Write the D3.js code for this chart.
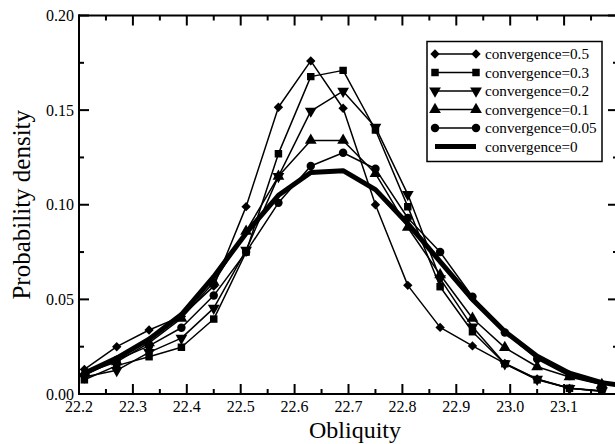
<!DOCTYPE html>
<html>
<head>
<meta charset="utf-8">
<script src="https://cdn.jsdelivr.net/npm/d3@7/dist/d3.min.js"></script>
<style>
html,body{margin:0;padding:0;background:#fff;}
svg{display:block;overflow:hidden;}
</style>
</head>
<body>
<svg id="chart" width="615" height="444" font-family="'Liberation Serif', 'Times New Roman', Times, serif"></svg>
<script>
const obliquity = [22.21,22.27,22.33,22.39,22.45,22.51,22.57,22.63,22.69,22.75,22.81,22.87,22.93,22.99,23.05,23.11,23.17];
const obliquityThick = [22.21,22.27,22.33,22.39,22.45,22.51,22.57,22.63,22.69,22.75,22.81,22.87,22.93,22.99,23.05,23.11,23.17,23.23];
const conv05  = [0.013,0.025,0.0338,0.041,0.057,0.099,0.1515,0.176,0.151,0.100,0.0574,0.0352,0.0254,0.0162,0.0079,0.003,0.0017];
const conv03  = [0.0075,0.015,0.0197,0.0247,0.0396,0.075,0.127,0.1677,0.171,0.1395,0.099,0.0567,0.0329,0.016,0.0075,0.003,0.0015];
const conv02  = [0.009,0.0125,0.022,0.0295,0.0454,0.076,0.115,0.1495,0.160,0.141,0.1055,0.061,0.0355,0.016,0.0078,0.003,0.0015];
const conv01  = [0.011,0.017,0.027,0.040,0.059,0.086,0.115,0.134,0.134,0.1165,0.088,0.063,0.040,0.0245,0.0144,0.009,0.005];
const conv005 = [0.010,0.018,0.0254,0.035,0.052,0.075,0.101,0.1205,0.1275,0.119,0.093,0.075,0.0514,0.0325,0.0185,0.0095,0.005];
const conv0   = [0.011,0.019,0.029,0.042,0.062,0.085,0.105,0.117,0.118,0.108,0.090,0.070,0.050,0.033,0.020,0.011,0.006,0.0035];
const seriesNames = ["convergence=0.5","convergence=0.3","convergence=0.2","convergence=0.1","convergence=0.05","convergence=0"];
const xTicks = [22.2,22.3,22.4,22.5,22.6,22.7,22.8,22.9,23.0,23.1];
const xTickLabels = ["22.2","22.3","22.4","22.5","22.6","22.7","22.8","22.9","23.0","23.1"];
const yTicks = [0,0.05,0.10,0.15,0.20];
const yTickLabels = ["0.00","0.05","0.10","0.15","0.20"];
const xLabel = "Obliquity";
const yLabel = "Probability density";

const FONT = "'Liberation Serif', 'Times New Roman', Times, serif";
const svg = d3.select("#chart");
const L = 79, R = 618, T = 15.5, B = 394;
const x = d3.scaleLinear().domain([22.2, 23.2]).range([L, R]);
const y = d3.scaleLinear().domain([0, 0.2]).range([B, T]);

const series = [
  {name: seriesNames[0], vals: conv05, sym: "diamond", size: 44, xs: obliquity},
  {name: seriesNames[1], vals: conv03, sym: d3.symbolSquare, size: 56, xs: obliquity},
  {name: seriesNames[2], vals: conv02, sym: "down", size: 60, xs: obliquity},
  {name: seriesNames[3], vals: conv01, sym: d3.symbolTriangle, size: 60, xs: obliquity},
  {name: seriesNames[4], vals: conv005, sym: d3.symbolCircle, size: 56, xs: obliquity},
  {name: seriesNames[5], vals: conv0, sym: null, size: 0, xs: obliquityThick, thick: true}
];

function symPath(s){
  if (s.sym === "down") return d3.symbol().type(d3.symbolTriangle).size(s.size)();
  if (s.sym === "diamond") return d3.symbol().type(d3.symbolSquare).size(s.size)();
  return d3.symbol().type(s.sym).size(s.size)();
}
function symRot(s){
  if (s.sym === "down") return " rotate(180)";
  if (s.sym === "diamond") return " rotate(45)";
  return "";
}

svg.append("clipPath").attr("id","clip").append("rect")
  .attr("x", L).attr("y", T).attr("width", R-L).attr("height", B-T);

const plot = svg.append("g").attr("clip-path","url(#clip)");
const line = d3.line().x(d=>x(d[0])).y(d=>y(d[1]));

const order = [5,4,3,2,1,0];
order.forEach(i=>{
  const s = series[i];
  const pts = s.xs.map((xv,j)=>[xv, s.vals[j]]);
  plot.append("path").datum(pts).attr("d", line)
    .attr("fill","none").attr("stroke","#000")
    .attr("stroke-width", s.thick ? 5 : 1.5)
    .attr("stroke-linejoin","round");
  if (s.sym) {
    plot.selectAll(null).data(pts).enter().append("path")
      .attr("d", symPath(s))
      .attr("transform", d=>`translate(${x(d[0])},${y(d[1])})` + symRot(s))
      .attr("fill","#000");
  }
});

const axg = svg.append("g");
const minorX = d3.range(22.25, 23.2, 0.1);
const minorY = d3.range(0.025, 0.2, 0.05);
function ln(x1,y1,x2,y2){ axg.append("line").attr("x1",x1).attr("y1",y1).attr("x2",x2).attr("y2",y2).attr("stroke","#000").attr("stroke-width",2); }
ln(L,T-1,L,B+1); ln(L-1,B,R+1,B); ln(L-1,T,R+1,T); ln(R,T-1,R,B+1);

xTicks.forEach(v=>{ ln(x(v),B,x(v),B-10); ln(x(v),T,x(v),T+10); });
minorX.forEach(v=>{ ln(x(v),B,x(v),B-5); ln(x(v),T,x(v),T+5); });
yTicks.forEach(v=>{ ln(L,y(v),L+10,y(v)); ln(R,y(v),R-10,y(v)); });
minorY.forEach(v=>{ ln(L,y(v),L+5,y(v)); ln(R,y(v),R-5,y(v)); });

xTicks.forEach((v,i)=>{
  axg.append("text").attr("x",x(v)).attr("y",B+17.5).attr("text-anchor","middle")
    .attr("font-family",FONT).attr("font-size",16).text(xTickLabels[i]);
});
yTicks.forEach((v,i)=>{
  axg.append("text").attr("x",L-5).attr("y",y(v)+5.5).attr("text-anchor","end")
    .attr("font-family",FONT).attr("font-size",16).text(yTickLabels[i]);
});

svg.append("text").attr("x",355).attr("y",437.5).attr("text-anchor","middle")
  .attr("font-family",FONT).attr("font-size",24).text(xLabel);
svg.append("text").attr("transform",`translate(30,${(T+B)/2}) rotate(-90)`).attr("text-anchor","middle")
  .attr("font-family",FONT).attr("font-size",25).text(yLabel);

const lg = svg.append("g");
lg.append("rect").attr("x",427).attr("y",41.5).attr("width",175).attr("height",120)
  .attr("fill","#fff").attr("stroke","#000").attr("stroke-width",1.5);
series.forEach((s,i)=>{
  const yy = 54 + i*18.5;
  lg.append("line").attr("x1",435).attr("x2",476).attr("y1",yy).attr("y2",yy)
    .attr("stroke","#000").attr("stroke-width", s.thick ? 5 : 1.5);
  if (s.sym) {
    [435,476].forEach(xx=>{
      lg.append("path").attr("d",symPath(s))
        .attr("transform",`translate(${xx},${yy})` + symRot(s))
        .attr("fill","#000");
    });
  }
  lg.append("text").attr("x",485).attr("y",yy+5).attr("font-family",FONT).attr("font-size",15.2).text(s.name);
});
</script>
</body>
</html>
